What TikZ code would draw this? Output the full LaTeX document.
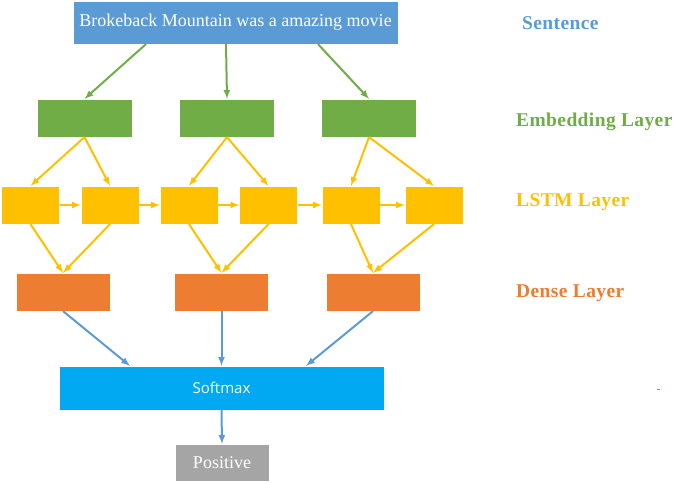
\documentclass[tikz,border=0pt]{standalone}
\usepackage{fontspec}
\setmainfont{Liberation Serif}
\newfontfamily\softfont{Open Sans}
\usetikzlibrary{arrows}
\definecolor{satzblau}{HTML}{5B9BD5}
\definecolor{embgruen}{HTML}{70AD47}
\definecolor{lstmgelb}{HTML}{FFC000}
\definecolor{denseorange}{HTML}{ED7D31}
\definecolor{softblau}{HTML}{00A9F1}
\definecolor{ergrau}{HTML}{A5A5A5}
\tikzset{
  Kasten/.style={inner sep=0pt, text=white, fill=#1, draw=white, very thin}, % für Kästen
  EKasten/.style={Kasten=embgruen, minimum width=95pt, minimum height=38pt},
  LKasten/.style={Kasten=lstmgelb, minimum width=58pt, minimum height=38pt},
  DKasten/.style={Kasten=denseorange, minimum width=94pt, minimum height=38pt},
  Pfeil/.style={line width=2pt, ->, >=latex, #1}, % für Pfeile
  Ebene/.style={anchor=west, inner sep=0pt, text=#1, font={\fontsize{19.5}{21}\selectfont\bfseries\addfontfeature{LetterSpace=2}}} % für Beschriftung
}
\begin{document}
\begin{tikzpicture}[x=1pt, y=-1pt, font=\fontsize{18}{20}\selectfont]
\useasboundingbox (0,0) rectangle (685,484);

% % Satz
\node[Kasten=satzblau, minimum width=325pt, minimum height=43pt] (satz) at (235.5,22.5) {Brokeback Mountain was a amazing movie};

% % Embedding
\node[EKasten] (emb1) at (84.5,118) {};
\node[EKasten] (emb2) at (227,118) {};
\node[EKasten] (emb3) at (369,118) {};

% % LSTM
\node[LKasten] (lstm1) at (30.5,205) {};
\node[LKasten] (lstm2) at (110,205) {};
\node[LKasten] (lstm3) at (189,205) {};
\node[LKasten] (lstm4) at (268.5,205) {};
\node[LKasten] (lstm5) at (351,205) {};
\node[LKasten] (lstm6) at (434,205) {};

% % Dense
\node[DKasten] (dense1) at (63,292) {};
\node[DKasten] (dense2) at (221.5,292) {};
\node[DKasten] (dense3) at (373,292) {};

% % Softmax und Ergebnis
\node[Kasten=softblau, minimum width=325pt, minimum height=44pt, font={\softfont\fontsize{15}{17}\selectfont}] (soft) at (221.5,388) {Softmax};
\node[Kasten=ergrau, minimum width=94pt, minimum height=37pt] (ergebnis) at (222,462.5) {Positive};

% Pfeile
\draw[Pfeil=embgruen] ([xshift=-89.5pt]satz.south) -- (emb1.north);
\draw[Pfeil=embgruen] ([xshift=-9.5pt]satz.south) -- (emb2.north);
\draw[Pfeil=embgruen] ([xshift=82.5pt]satz.south) -- (emb3.north);

\draw[Pfeil=lstmgelb] (emb1.south) -- (lstm1.north);
\draw[Pfeil=lstmgelb] (emb1.south) -- (lstm2.north);
\draw[Pfeil=lstmgelb] (emb2.south) -- (lstm3.north);
\draw[Pfeil=lstmgelb] (emb2.south) -- (lstm4.north);
\draw[Pfeil=lstmgelb] (emb3.south) -- (lstm5.north);
\draw[Pfeil=lstmgelb] (emb3.south) -- (lstm6.north);

\draw[Pfeil=lstmgelb] (lstm1.east) -- (lstm2.west);
\draw[Pfeil=lstmgelb] (lstm2.east) -- (lstm3.west);
\draw[Pfeil=lstmgelb] (lstm3.east) -- (lstm4.west);
\draw[Pfeil=lstmgelb] (lstm4.east) -- (lstm5.west);
\draw[Pfeil=lstmgelb] (lstm5.east) -- (lstm6.west);

\draw[Pfeil=lstmgelb] (lstm1.south) -- (dense1.north);
\draw[Pfeil=lstmgelb] (lstm2.south) -- (dense1.north);
\draw[Pfeil=lstmgelb] (lstm3.south) -- (dense2.north);
\draw[Pfeil=lstmgelb] (lstm4.south) -- (dense2.north);
\draw[Pfeil=lstmgelb] (lstm5.south) -- (dense3.north);
\draw[Pfeil=lstmgelb] (lstm6.south) -- (dense3.north);

\draw[Pfeil=satzblau] (dense1.south) -- ([xshift=-91.5pt]soft.north);
\draw[Pfeil=satzblau] (dense2.south) -- (soft.north);
\draw[Pfeil=satzblau] (dense3.south) -- ([xshift=84.5pt]soft.north);
\draw[Pfeil=satzblau] (soft.south) -- (ergebnis.north);

% Beschriftung
\node[Ebene=satzblau] (lsatz) at (522,23) {Sentence};
\node[Ebene=embgruen] (lemb) at (516,122) {Embedding Layer};
\node[Ebene=lstmgelb] (llstm) at (516,202) {LSTM Layer};
\node[Ebene=denseorange] (ldense) at (516,293) {Dense Layer};
\draw[satzblau, line width=0.6pt] (656.5,389) -- (659.5,389);

\end{tikzpicture}
\end{document}
